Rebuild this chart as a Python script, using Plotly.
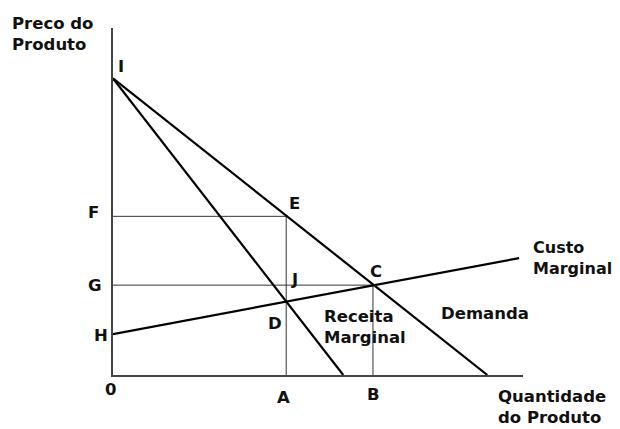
import plotly.graph_objects as go

# ---- data (economic units) ----
demand_q = [0, 12.6]
demand_p = [10, 0]
mr_q = [0, 7.75]
mr_p = [10, 0]
mc_q = [0, 13.67]
mc_p = [1.38, 3.94]

q_A = 5.83
q_B = 8.75
p_F = 5.35
p_G = 3.03

Q_MAX = 13.8
P_MAX = 11.7

# page has an 8px body margin; size the figure to fit the window
OFF = 8
W, H = 620 - OFF, 429 - OFF
L, R, T, B = 113 - OFF, 97, 28 - OFF, 54

fig = go.Figure()

guide = dict(color="#333333", width=1)
main = dict(color="#000000", width=2.2)

# guide lines
fig.add_trace(go.Scatter(x=[0, q_A, q_A], y=[p_F, p_F, 0], mode="lines", line=guide))
fig.add_trace(go.Scatter(x=[0, q_B, q_B], y=[p_G, p_G, 0], mode="lines", line=guide))
# curves
fig.add_trace(go.Scatter(x=demand_q, y=demand_p, mode="lines", line=main))
fig.add_trace(go.Scatter(x=mr_q, y=mr_p, mode="lines", line=main))
fig.add_trace(go.Scatter(x=mc_q, y=mc_p, mode="lines", line=main))


def px(x, y):
    # window pixel -> paper coordinates
    x -= OFF
    y -= OFF
    return (x - L) / (W - L - R), (H - B - y) / (H - T - B)


labels = [
    ("I", 121, 66, "center", 16.5),
    ("F", 93, 212, "center", 16.5),
    ("E", 294, 203, "center", 16.5),
    ("G", 95, 285, "center", 16.5),
    ("J", 294, 279, "center", 16.5),
    ("H", 101, 335, "center", 16.5),
    ("D", 275, 323, "center", 16.5),
    ("C", 376, 271, "center", 16.5),
    ("A", 283, 397, "center", 16.5),
    ("B", 373, 394, "center", 16.5),
    ("0", 110, 389, "center", 16.5),
    ("Preco do<br>Produto", 10, 34, "left", 16.5),
    ("Custo<br>Marginal", 531, 258, "left", 16),
    ("Demanda", 439, 313, "left", 16.5),
    ("Receita<br>Marginal", 322, 327, "left", 16.5),
    ("Quantidade<br>do Produto", 496, 407, "left", 16.5),
]
for text, x, y, anchor, size in labels:
    ax, ay = px(x, y)
    fig.add_annotation(
        x=ax, y=ay, xref="paper", yref="paper", text="<b>%s</b>" % text,
        showarrow=False, xanchor=anchor, yanchor="middle", align="left",
        font=dict(family="DejaVu Sans", size=size, color="#111111"),
    )

fig.update_layout(
    width=W, height=H,
    margin=dict(l=L, r=R, t=T, b=B),
    paper_bgcolor="white", plot_bgcolor="white",
    showlegend=False,
    xaxis=dict(range=[0, Q_MAX], showgrid=False, zeroline=False, showticklabels=False,
               ticks="", showline=True, linecolor="#444444", linewidth=1.5),
    yaxis=dict(range=[0, P_MAX], showgrid=False, zeroline=False, showticklabels=False,
               ticks="", showline=True, linecolor="#444444", linewidth=1.5),
)

fig.write_html("out.html")
